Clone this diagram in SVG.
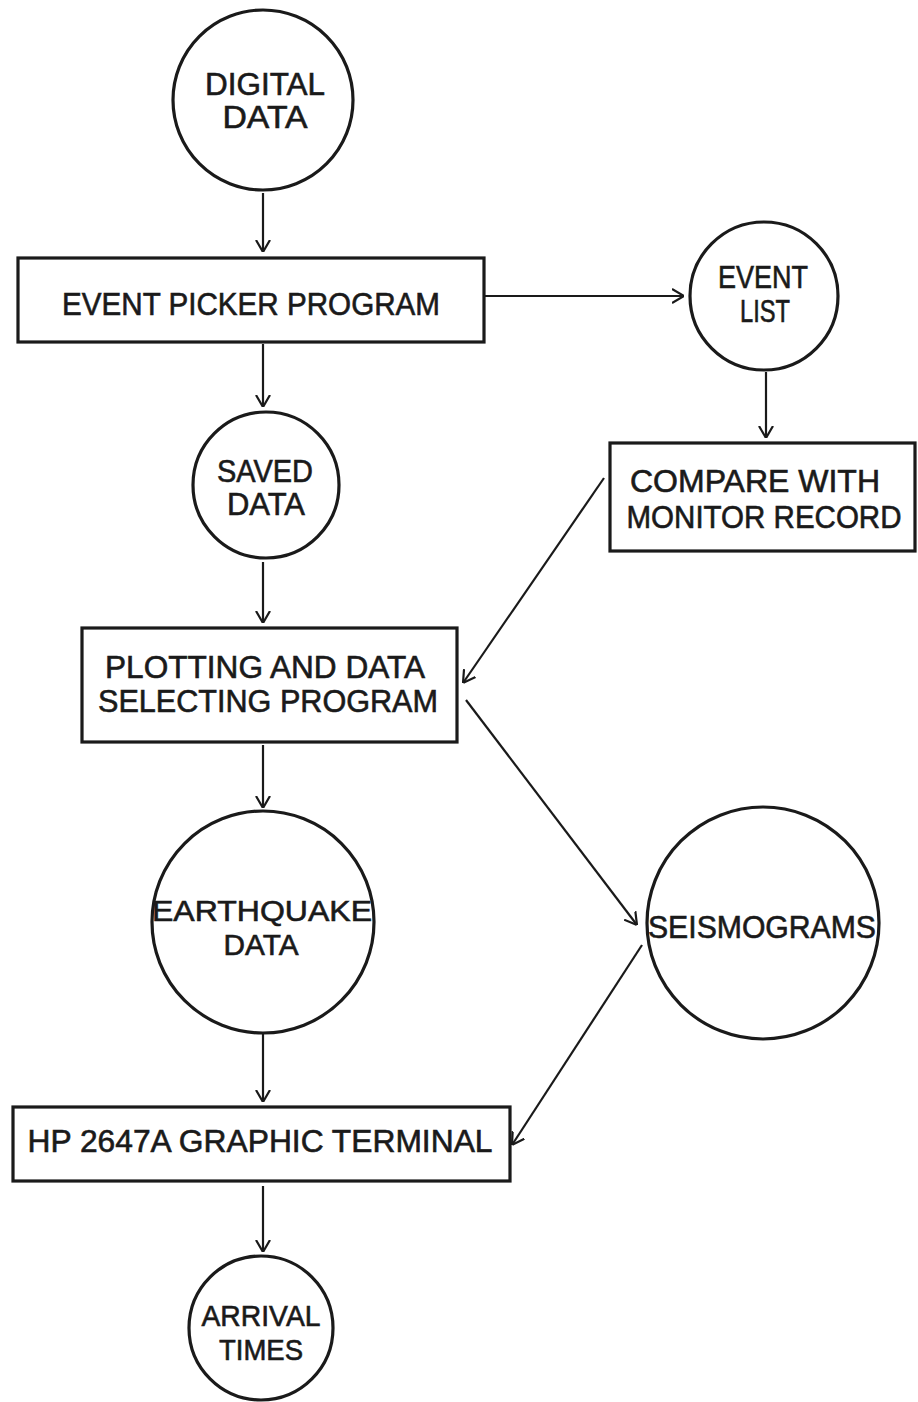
<svg xmlns="http://www.w3.org/2000/svg" width="918" height="1402" viewBox="0 0 918 1402">
<style>
.n{fill:none;stroke:#1a1a1a;stroke-width:3.2}
.t{font-family:"Liberation Sans",Arial,sans-serif;font-size:31px;fill:#1a1a1a;stroke:#1a1a1a;stroke-width:0.6;text-anchor:middle}
.s{font-size:29px}
.c{stroke:#1a1a1a;stroke-width:2.2;fill:none;marker-end:url(#ah)}
</style>
<defs>
<marker id="ah" viewBox="0 0 12 16" refX="12" refY="8" markerWidth="12" markerHeight="16" markerUnits="userSpaceOnUse" orient="auto">
<path d="M0,1 L12,8 L0,15" fill="none" stroke="#1a1a1a" stroke-width="2.2"/>
</marker>
</defs>
<rect width="918" height="1402" fill="#fff"/>
<g id="connectors">
<line class="c" x1="263" y1="193" x2="263" y2="252"/>
<line class="c" x1="484" y1="296" x2="684" y2="296"/>
<line class="c" x1="263" y1="344" x2="263" y2="407"/>
<line class="c" x1="766" y1="372" x2="766" y2="438"/>
<line class="c" x1="604" y1="478" x2="463" y2="683"/>
<line class="c" x1="263" y1="562" x2="263" y2="623"/>
<line class="c" x1="466" y1="700" x2="637" y2="925"/>
<line class="c" x1="263" y1="745" x2="263" y2="808"/>
<line class="c" x1="642" y1="945" x2="512" y2="1145"/>
<line class="c" x1="263" y1="1034" x2="263" y2="1102"/>
<line class="c" x1="263" y1="1186" x2="263" y2="1252"/>
</g>
<g id="digital-data">
<circle class="n" cx="263" cy="100" r="90"/>
<text class="t" x="265" y="95" textLength="120" lengthAdjust="spacingAndGlyphs">DIGITAL</text>
<text class="t" x="265" y="128" textLength="85" lengthAdjust="spacingAndGlyphs">DATA</text>
</g>
<g id="event-picker">
<rect class="n" x="18" y="258" width="466" height="84"/>
<text class="t" x="251" y="315" textLength="378" lengthAdjust="spacingAndGlyphs">EVENT PICKER PROGRAM</text>
</g>
<g id="event-list">
<circle class="n" cx="764" cy="296" r="74"/>
<text class="t" x="763" y="288" textLength="90" lengthAdjust="spacingAndGlyphs">EVENT</text>
<text class="t" x="765" y="322" textLength="50" lengthAdjust="spacingAndGlyphs">LIST</text>
</g>
<g id="compare">
<rect class="n" x="610" y="443" width="305" height="108"/>
<text class="t" x="755" y="492" textLength="250" lengthAdjust="spacingAndGlyphs">COMPARE WITH</text>
<text class="t" x="764" y="528" textLength="275" lengthAdjust="spacingAndGlyphs">MONITOR RECORD</text>
</g>
<g id="saved-data">
<circle class="n" cx="266" cy="485" r="73"/>
<text class="t" x="265" y="482" textLength="96" lengthAdjust="spacingAndGlyphs">SAVED</text>
<text class="t" x="266" y="515" textLength="78" lengthAdjust="spacingAndGlyphs">DATA</text>
</g>
<g id="plotting">
<rect class="n" x="82" y="628" width="375" height="114"/>
<text class="t" x="265" y="678" textLength="320" lengthAdjust="spacingAndGlyphs">PLOTTING AND DATA</text>
<text class="t" x="268" y="712" textLength="340" lengthAdjust="spacingAndGlyphs">SELECTING PROGRAM</text>
</g>
<g id="earthquake-data">
<circle class="n" cx="263" cy="922" r="111"/>
<text class="t s" x="262" y="921" textLength="220" lengthAdjust="spacingAndGlyphs">EARTHQUAKE</text>
<text class="t s" x="261" y="955" textLength="75" lengthAdjust="spacingAndGlyphs">DATA</text>
</g>
<g id="seismograms">
<circle class="n" cx="763" cy="923" r="116"/>
<text class="t" x="762" y="938" textLength="228" lengthAdjust="spacingAndGlyphs">SEISMOGRAMS</text>
</g>
<g id="hp-terminal">
<rect class="n" x="13" y="1107" width="497" height="74"/>
<text class="t" x="260" y="1152" textLength="465" lengthAdjust="spacingAndGlyphs">HP 2647A GRAPHIC TERMINAL</text>
</g>
<g id="arrival-times">
<circle class="n" cx="261" cy="1328" r="72"/>
<text class="t s" x="261" y="1326" textLength="119" lengthAdjust="spacingAndGlyphs">ARRIVAL</text>
<text class="t s" x="261" y="1360" textLength="84" lengthAdjust="spacingAndGlyphs">TIMES</text>
</g>
</svg>
